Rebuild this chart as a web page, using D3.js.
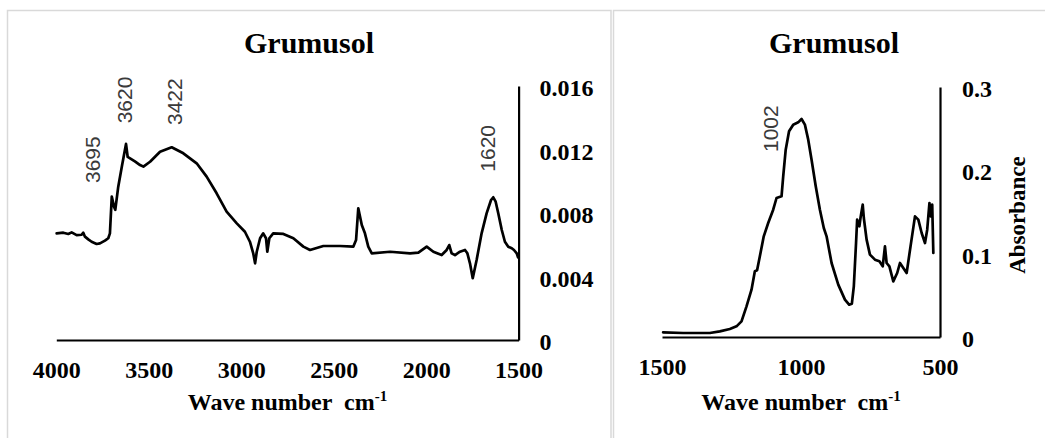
<!DOCTYPE html>
<html>
<head>
<meta charset="utf-8">
<script src="https://cdn.jsdelivr.net/npm/d3@7"></script>
<style>
  html, body { margin: 0; padding: 0; background: #ffffff; }
  svg { display: block; }
</style>
</head>
<body>
<svg id="chart" width="1045" height="438"></svg>
<script>
// ---------- DATA ----------
const chartTitle = "Grumusol";
const xAxisTitle = "Wave number";
const xAxisUnit = "cm";
const xAxisUnitSup = "-1";
const yAxisTitle = "Absorbance";

// Left panel: 4000 - 1500 cm-1
const leftWave = [3998,3962,3935,3917,3890,3863,3854,3845,3827,3809,3782,3764,3737,3719,3710,3700,3688,3681,3665,3646,3623,3614,3601,3575,3547,3529,3493,3439,3376,3313,3241,3187,3133,3079,3024,2980,2953,2935,2925,2916,2898,2881,2866,2859,2848,2827,2772,2718,2664,2628,2556,2466,2394,2379,2367,2348,2331,2313,2294,2195,2087,2042,1997,1961,1916,1889,1875,1862,1844,1817,1790,1777,1763,1748,1727,1700,1673,1649,1637,1624,1610,1591,1574,1556,1537,1525,1510,1503];
const leftAbs = [0.00672,0.00676,0.00668,0.00678,0.00661,0.00663,0.00676,0.00651,0.00634,0.00619,0.00605,0.00609,0.00626,0.00641,0.00672,0.00903,0.0084,0.0082,0.00966,0.0109,0.01235,0.01153,0.01144,0.01125,0.01102,0.01092,0.01123,0.01186,0.01214,0.01176,0.01113,0.01029,0.00924,0.00808,0.00735,0.00682,0.00619,0.00546,0.00483,0.00556,0.00641,0.00672,0.00641,0.00556,0.00641,0.00672,0.00668,0.00641,0.00588,0.00567,0.00592,0.00592,0.00588,0.0063,0.0083,0.00724,0.00672,0.00588,0.00546,0.00556,0.00546,0.0055,0.00588,0.00556,0.00535,0.00567,0.00598,0.00546,0.00535,0.00556,0.00567,0.00546,0.00483,0.00389,0.00504,0.00672,0.00798,0.00882,0.00899,0.00871,0.00798,0.00693,0.00619,0.00588,0.00578,0.00567,0.00546,0.0052];

// Right panel: 1500 - 500 cm-1
const rightWave = [1496,1424,1328,1292,1256,1232,1214,1196,1178,1166,1158,1148,1134,1118,1100,1088,1070,1064,1055,1043,1028,1010,998,986,974,962,947,932,918,908,890,866,842,827,817,810,802,798,790,786,778,774,764,752,734,718,706,698,692,682,668,654,644,632,620,606,590,578,566,554,546,538,533,528,524];
const rightAbs = [0.0056,0.0048,0.0048,0.0068,0.0096,0.0128,0.0188,0.0368,0.0568,0.0788,0.080,0.0968,0.1208,0.1368,0.1528,0.1668,0.1688,0.1928,0.2248,0.2468,0.2548,0.2576,0.2616,0.2548,0.2368,0.2128,0.1808,0.1528,0.1308,0.1208,0.0888,0.0628,0.0448,0.0388,0.040,0.0608,0.1128,0.1408,0.1328,0.1428,0.1588,0.1428,0.1168,0.0988,0.0928,0.0908,0.0848,0.1088,0.0888,0.0848,0.0668,0.0768,0.0888,0.0828,0.0768,0.1088,0.1448,0.1408,0.1248,0.1128,0.1288,0.1608,0.1448,0.1588,0.1008];

const leftXTicks = [4000,3500,3000,2500,2000,1500];
const leftYTicks = [0,0.004,0.008,0.012,0.016];
const leftYTickLabels = ["0","0.004","0.008","0.012","0.016"];
const rightXTicks = [1500,1000,500];
const rightYTicks = [0,0.1,0.2,0.3];
const rightYTickLabels = ["0","0.1","0.2","0.3"];

// Peak annotations (anchor in data units: wave number, absorbance at label foot)
const leftPeakLabels = ["3695","3620","3422","1620"];
const leftPeakWave = [3764,3592,3320,1628];
const leftPeakAbs = [0.00989,0.01365,0.01354,0.0106];
const rightPeakLabels = ["1002"];
const rightPeakWave = [1083];
const rightPeakAbs = [0.222];

// ---------- DRAW ----------
const svg = d3.select("#chart");
const serif = "'Liberation Serif','Times New Roman',serif";
const sans = "'Liberation Sans',Arial,sans-serif";

// panel frames
svg.append("rect").attr("x",7.5).attr("y",10.5).attr("width",603.5).attr("height",440)
  .attr("fill","none").attr("stroke","#d9d9d9").attr("stroke-width",1.5);
svg.append("rect").attr("x",613.5).attr("y",10.5).attr("width",440).attr("height",440)
  .attr("fill","none").attr("stroke","#d9d9d9").attr("stroke-width",1.5);

function drawPanel(cfg) {
  const x = d3.scaleLinear().domain(cfg.xDomain).range([cfg.x0, cfg.x1]);
  const y = d3.scaleLinear().domain(cfg.yDomain).range([cfg.y0, cfg.y1]);
  const g = svg.append("g");

  // x axis
  const xa = g.append("g").attr("transform",`translate(0,${cfg.y0})`)
    .call(d3.axisBottom(x).tickValues(cfg.xTicks).tickSize(0).tickFormat(d3.format("d")));
  xa.select(".domain").attr("stroke","#000").attr("stroke-width",2.2);
  xa.selectAll("text").attr("font-family",serif).attr("font-weight","bold")
    .attr("font-size",24).attr("fill","#000").attr("dy",null).attr("y",cfg.xTickBase - cfg.y0);

  // y axis (right side)
  const ya = g.append("g").attr("transform",`translate(${cfg.x1},0)`)
    .call(d3.axisRight(y).tickValues(cfg.yTicks).tickSize(0)
      .tickFormat((d,i)=>cfg.yTickLabels[i]));
  ya.select(".domain").attr("stroke","#000").attr("stroke-width",2.2);
  ya.selectAll("text").attr("font-family",serif).attr("font-weight","bold")
    .attr("font-size",24).attr("fill","#000").attr("x",cfg.yLabelX - cfg.x1).attr("dy","0.4em")
    .attr("text-anchor","start");

  // spectrum line
  const pts = cfg.wave.map((w,i)=>[w,cfg.abs[i]]);
  g.append("path").datum(pts)
    .attr("fill","none").attr("stroke","#000").attr("stroke-width",2.7)
    .attr("stroke-linejoin","round").attr("stroke-linecap","round")
    .attr("d", d3.line().x(d=>x(d[0])).y(d=>y(d[1])));

  // title
  g.append("text").attr("x",cfg.titleX).attr("y",53).attr("text-anchor","middle")
    .attr("font-family",serif).attr("font-weight","bold").attr("font-size",30)
    .text(chartTitle);

  // x-axis title
  const xt = g.append("text").attr("x",(cfg.x0+cfg.x1)/2).attr("y",410).attr("text-anchor","middle")
    .attr("font-family",serif).attr("font-weight","bold").attr("font-size",24);
  xt.append("tspan").text(xAxisTitle);
  xt.append("tspan").attr("dx",12).text(xAxisUnit);
  xt.append("tspan").attr("dy",-9).attr("font-size",15).text(xAxisUnitSup);

  // peak labels
  cfg.peakLabels.forEach((lab,i)=>{
    const px = x(cfg.peakWave[i]), py = y(cfg.peakAbs[i]);
    g.append("text").attr("transform",`translate(${px},${py}) rotate(-90)`)
      .attr("text-anchor","start").attr("font-family",sans).attr("font-size",21)
      .attr("fill","#3a3a3a").text(lab);
  });
  return {x,y,g};
}

drawPanel({
  xDomain:[4000,1500], yDomain:[0,0.016], x0:56.3, x1:518.6, y0:340, y1:86,
  wave:leftWave, abs:leftAbs, xTicks:leftXTicks, yTicks:leftYTicks, yTickLabels:leftYTickLabels,
  xTickBase:378, yLabelX:539.5, titleX:309,
  peakLabels:leftPeakLabels, peakWave:leftPeakWave, peakAbs:leftPeakAbs
});

const right = drawPanel({
  xDomain:[1500,500], yDomain:[0,0.3], x0:662, x1:940, y0:337, y1:87,
  wave:rightWave, abs:rightAbs, xTicks:rightXTicks, yTicks:rightYTicks, yTickLabels:rightYTickLabels,
  xTickBase:375, yLabelX:962, titleX:834,
  peakLabels:rightPeakLabels, peakWave:rightPeakWave, peakAbs:rightPeakAbs
});

// y-axis title on right panel
svg.append("text").attr("transform","translate(1025,215) rotate(-90)")
  .attr("text-anchor","middle").attr("font-family",serif).attr("font-weight","bold")
  .attr("font-size",23).text(yAxisTitle);
</script>
</body>
</html>
